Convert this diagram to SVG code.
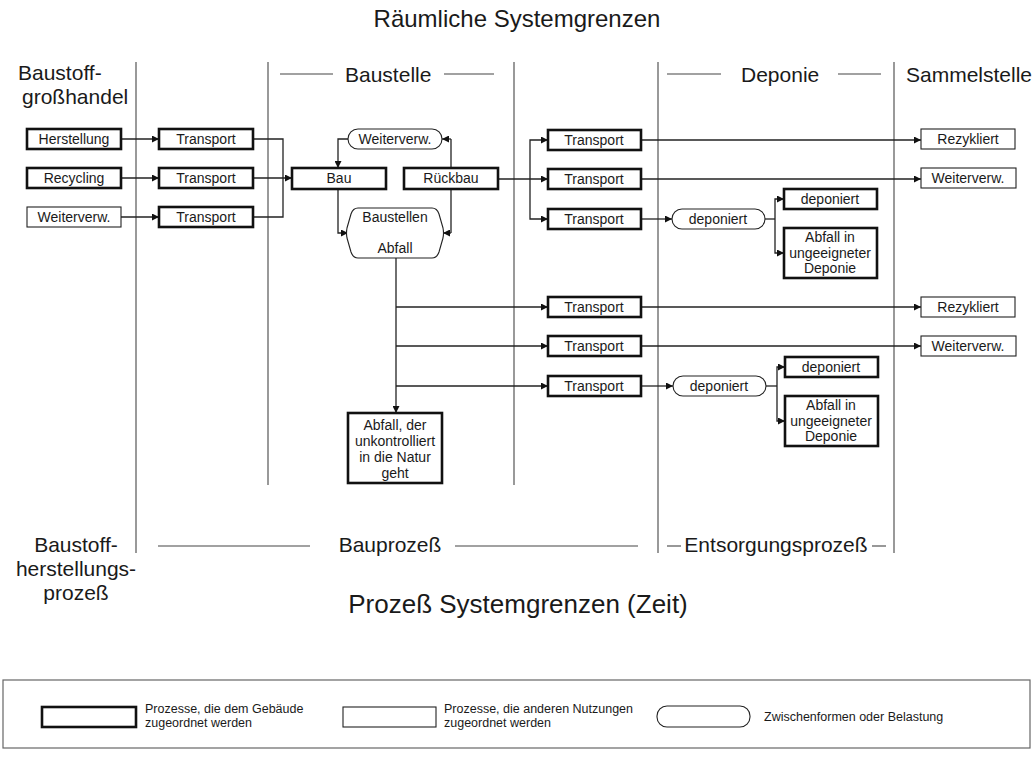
<svg xmlns="http://www.w3.org/2000/svg" width="1036" height="758" viewBox="0 0 1036 758">
  <style>
    text { font-family: "Liberation Sans", Arial, sans-serif; fill: #1a1a1a; }
    .title { font-size: 24px; text-anchor: middle; }
    .title2 { font-size: 26px; text-anchor: middle; }
    .head { font-size: 21px; }
    .lbl { font-size: 14px; text-anchor: middle; }
    .leg { font-size: 12.5px; }
    .thick { fill: #fff; stroke: #111; stroke-width: 2.6; }
    .thin { fill: #fff; stroke: #222; stroke-width: 1.1; }
    .pill { fill: #fff; stroke: #222; stroke-width: 1.1; }
    .bound { stroke: #555; stroke-width: 1.2; fill: none; }
    .dash { stroke: #444; stroke-width: 1.1; fill: none; }
    .conn { stroke: #222; stroke-width: 1.3; fill: none; }
    .arr { marker-end: url(#ah); }
  </style>
  <defs>
    <marker id="ah" viewBox="0 0 10 10" refX="10" refY="5" markerWidth="9" markerHeight="7" markerUnits="userSpaceOnUse" orient="auto">
      <path d="M0,0 L10,5 L0,10 Z" fill="#111"/>
    </marker>
  </defs>
  <rect width="1036" height="758" fill="#fff"/>

  <!-- titles and column headings -->
  <g id="headings">
    <text class="title" x="517" y="27">Räumliche Systemgrenzen</text>
    <text class="head" x="18" y="80">Baustoff-</text>
    <text class="head" x="22" y="104">großhandel</text>
    <text class="head" x="345" y="82">Baustelle</text>
    <line class="dash" x1="280" y1="74" x2="333" y2="74"/>
    <line class="dash" x1="444" y1="74" x2="494" y2="74"/>
    <text class="head" x="741" y="82">Deponie</text>
    <line class="dash" x1="667" y1="74" x2="721" y2="74"/>
    <line class="dash" x1="838" y1="74" x2="881" y2="74"/>
    <text class="head" x="906" y="82">Sammelstelle</text>
  </g>

  <!-- system boundaries -->
  <g id="boundaries">
    <line class="bound" x1="136" y1="62" x2="136" y2="553"/>
    <line class="bound" x1="268" y1="62" x2="268" y2="485"/>
    <line class="bound" x1="514" y1="62" x2="514" y2="485"/>
    <line class="bound" x1="658" y1="62" x2="658" y2="553"/>
    <line class="bound" x1="894" y1="62" x2="894" y2="553"/>
  </g>

  <!-- connectors -->
  <g id="connectors">
    <line class="conn arr" x1="121" y1="139" x2="159" y2="139"/>
    <line class="conn arr" x1="121" y1="178" x2="159" y2="178"/>
    <line class="conn arr" x1="121" y1="217" x2="159" y2="217"/>
    <polyline class="conn" points="253,139 283,139 283,217 253,217"/>
    <line class="conn arr" x1="253" y1="178" x2="292" y2="178"/>
    <polyline class="conn arr" points="348,139 338,139 338,168"/>
    <polyline class="conn arr" points="338,189 338,233 348,233"/>
    <line class="conn" x1="451" y1="139" x2="451" y2="233"/>
    <line class="conn arr" x1="451" y1="139" x2="442" y2="139"/>
    <line class="conn arr" x1="451" y1="233" x2="443" y2="233"/>
    <line class="conn arr" x1="498" y1="179" x2="548" y2="179"/>
    <polyline class="conn arr" points="530,179 530,140 548,140"/>
    <polyline class="conn arr" points="530,179 530,219 548,219"/>
    <line class="conn arr" x1="641" y1="140" x2="921" y2="140"/>
    <line class="conn arr" x1="641" y1="179" x2="921" y2="179"/>
    <line class="conn arr" x1="641" y1="219" x2="672" y2="219"/>
    <line class="conn" x1="765" y1="219" x2="775" y2="219"/>
    <polyline class="conn arr" points="775,219 775,199 784,199"/>
    <polyline class="conn arr" points="775,219 775,253 784,253"/>
    <line class="conn arr" x1="396" y1="258" x2="396" y2="413"/>
    <line class="conn arr" x1="396" y1="307" x2="548" y2="307"/>
    <line class="conn arr" x1="396" y1="346" x2="548" y2="346"/>
    <line class="conn arr" x1="396" y1="386" x2="548" y2="386"/>
    <line class="conn arr" x1="641" y1="307" x2="921" y2="307"/>
    <line class="conn arr" x1="641" y1="346" x2="921" y2="346"/>
    <line class="conn arr" x1="641" y1="386" x2="673" y2="386"/>
    <line class="conn" x1="766" y1="386" x2="777" y2="386"/>
    <polyline class="conn arr" points="777,386 777,367 785,367"/>
    <polyline class="conn arr" points="777,386 777,421 785,421"/>
  </g>

  <!-- supply side -->
  <g id="herstellung"><rect class="thick" x="27" y="129" width="94" height="20"/><text class="lbl" x="74" y="144">Herstellung</text></g>
  <g id="recycling"><rect class="thick" x="27" y="168" width="94" height="20"/><text class="lbl" x="74" y="183">Recycling</text></g>
  <g id="weiterverw-in"><rect class="thin" x="27" y="207" width="94" height="20"/><text class="lbl" x="74" y="222">Weiterverw.</text></g>
  <g id="transport-a1"><rect class="thick" x="159" y="129" width="94" height="20"/><text class="lbl" x="206" y="144">Transport</text></g>
  <g id="transport-a2"><rect class="thick" x="159" y="168" width="94" height="20"/><text class="lbl" x="206" y="183">Transport</text></g>
  <g id="transport-a3"><rect class="thick" x="159" y="207" width="94" height="20"/><text class="lbl" x="206" y="222">Transport</text></g>

  <!-- building site -->
  <g id="bau"><rect class="thick" x="292" y="168" width="94" height="21"/><text class="lbl" x="339" y="183">Bau</text></g>
  <g id="rueckbau"><rect class="thick" x="404" y="168" width="94" height="21"/><text class="lbl" x="451" y="183">Rückbau</text></g>
  <g id="weiterverw-site"><rect class="pill" x="348" y="129" width="94" height="20" rx="10"/><text class="lbl" x="395" y="144">Weiterverw.</text></g>
  <g id="baustellenabfall">
    <path class="pill" d="M358,208 H432 Q437,208 439,214 L443,228 Q444,233 443,238 L439,252 Q437,258 432,258 H358 Q353,258 351,252 L347,238 Q346,233 347,228 L351,214 Q353,208 358,208 Z"/>
    <text class="lbl" x="395" y="222">Baustellen</text>
    <text class="lbl" x="395" y="253">Abfall</text>
  </g>
  <g id="abfall-natur">
    <rect class="thick" x="348" y="413" width="94" height="70"/>
    <text class="lbl" x="395" y="430">Abfall, der</text>
    <text class="lbl" x="395" y="446">unkontrolliert</text>
    <text class="lbl" x="395" y="462">in die Natur</text>
    <text class="lbl" x="395" y="478">geht</text>
  </g>

  <!-- disposal, from demolition -->
  <g id="transport-b1"><rect class="thick" x="548" y="130" width="93" height="20"/><text class="lbl" x="594" y="145">Transport</text></g>
  <g id="transport-b2"><rect class="thick" x="548" y="169" width="93" height="20"/><text class="lbl" x="594" y="184">Transport</text></g>
  <g id="transport-b3"><rect class="thick" x="548" y="209" width="93" height="20"/><text class="lbl" x="594" y="224">Transport</text></g>
  <g id="deponiert-b"><rect class="pill" x="672" y="209" width="93" height="20" rx="10"/><text class="lbl" x="718" y="224">deponiert</text></g>
  <g id="deponiert-box-b"><rect class="thick" x="784" y="189" width="93" height="20"/><text class="lbl" x="830" y="204">deponiert</text></g>
  <g id="ungeeignet-b">
    <rect class="thick" x="784" y="228" width="93" height="50"/>
    <text class="lbl" x="830" y="242">Abfall in</text>
    <text class="lbl" x="830" y="258">ungeeigneter</text>
    <text class="lbl" x="830" y="273">Deponie</text>
  </g>
  <g id="rezykliert-b"><rect class="thin" x="921" y="129" width="94" height="20"/><text class="lbl" x="968" y="144">Rezykliert</text></g>
  <g id="weiterverw-b"><rect class="thin" x="921" y="168" width="95" height="20"/><text class="lbl" x="968" y="183">Weiterverw.</text></g>

  <!-- disposal, from site waste -->
  <g id="transport-c1"><rect class="thick" x="548" y="297" width="93" height="20"/><text class="lbl" x="594" y="312">Transport</text></g>
  <g id="transport-c2"><rect class="thick" x="548" y="336" width="93" height="20"/><text class="lbl" x="594" y="351">Transport</text></g>
  <g id="transport-c3"><rect class="thick" x="548" y="376" width="93" height="20"/><text class="lbl" x="594" y="391">Transport</text></g>
  <g id="deponiert-c"><rect class="pill" x="673" y="376" width="93" height="20" rx="10"/><text class="lbl" x="719" y="391">deponiert</text></g>
  <g id="deponiert-box-c"><rect class="thick" x="785" y="357" width="93" height="20"/><text class="lbl" x="831" y="372">deponiert</text></g>
  <g id="ungeeignet-c">
    <rect class="thick" x="785" y="396" width="93" height="50"/>
    <text class="lbl" x="831" y="410">Abfall in</text>
    <text class="lbl" x="831" y="426">ungeeigneter</text>
    <text class="lbl" x="831" y="441">Deponie</text>
  </g>
  <g id="rezykliert-c"><rect class="thin" x="921" y="297" width="94" height="20"/><text class="lbl" x="968" y="312">Rezykliert</text></g>
  <g id="weiterverw-c"><rect class="thin" x="921" y="336" width="95" height="20"/><text class="lbl" x="968" y="351">Weiterverw.</text></g>

  <!-- process phases -->
  <g id="phases">
    <text class="head" x="76" y="552" text-anchor="middle">Baustoff-</text>
    <text class="head" x="76" y="576" text-anchor="middle">herstellungs-</text>
    <text class="head" x="76" y="600" text-anchor="middle">prozeß</text>
    <line class="dash" x1="158" y1="546" x2="310" y2="546"/>
    <text class="head" x="390" y="552" text-anchor="middle">Bauprozeß</text>
    <line class="dash" x1="455" y1="546" x2="638" y2="546"/>
    <line class="dash" x1="667" y1="546" x2="681" y2="546"/>
    <text class="head" x="776" y="552" text-anchor="middle">Entsorgungsprozeß</text>
    <line class="dash" x1="872" y1="546" x2="886" y2="546"/>
    <text class="title2" x="518" y="613">Prozeß Systemgrenzen (Zeit)</text>
  </g>

  <!-- legend -->
  <g id="legend">
    <rect x="3" y="680" width="1027" height="68" fill="#fff" stroke="#666" stroke-width="1.2"/>
    <rect class="thick" x="42" y="707" width="94" height="20"/>
    <text class="leg" x="145" y="713">Prozesse, die dem Gebäude</text>
    <text class="leg" x="145" y="727">zugeordnet werden</text>
    <rect class="thin" x="343" y="707" width="93" height="20"/>
    <text class="leg" x="444" y="713">Prozesse, die anderen Nutzungen</text>
    <text class="leg" x="444" y="727">zugeordnet werden</text>
    <rect class="pill" x="657" y="706" width="93" height="21" rx="10"/>
    <text class="leg" x="764" y="721">Zwischenformen oder Belastung</text>
  </g>
</svg>
